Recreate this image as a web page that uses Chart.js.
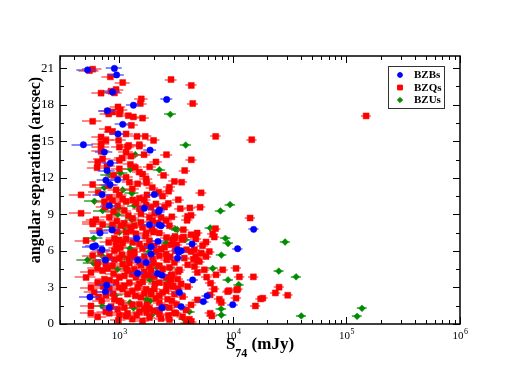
<!DOCTYPE html>
<html>
<head>
<meta charset="utf-8">
<title>angular separation vs S74</title>
<script src="https://cdn.jsdelivr.net/npm/chart.js@4/dist/chart.umd.min.js"></script>
<style>
  html, body { margin: 0; padding: 0; background: #fff; }
</style>
</head>
<body>
<canvas id="myChart" width="518" height="382"></canvas>

<script>
// [flux S74 (mJy), angular separation (arcsec)]
const BZB_POINTS = [
  [525,20.86],[904,20.98],[946,20.45],[870,19.05],[2610,18.43],[1330,17.96],[785,17.5],[1070,16.39],
  [973,15.6],[482,14.72],[738,14.11],[1865,14.27],[833,13.2],[778,12.6],[762,11.8],[966,11.84],
  [828,11.45],[704,10.63],[2030,10.63],[816,9.72],[1660,9.5],[2250,9.36],[2220,9.23],[1840,8.15],
  [2250,8.13],[862,7.72],[676,7.47],[2330,8.07],[15230,7.77],[4370,6.57],[11000,6.18],[3330,5.9],
  [582,6.34],[615,6.42],[704,6.1],[1420,7.03],[2190,6.78],[1900,6.34],[3260,6.1],[753,5.25],
  [1450,5.25],[1900,5.74],[1720,5.05],[1450,4.17],[2170,4.14],[2370,4.0],[773,3.19],[551,2.22],
  [753,2.66],[2370,1.34],[816,1.34],[9960,1.59],[5920,2.31],[5490,1.84],[4420,3.62],[3260,5.41],
  [3500,6.01],[3380,2.58],[3500,1.43]
];

const BZQ_POINTS = [
  [582,20.92],[545,20.8],[833,20.29],[1070,19.82],[2850,20.07],[4300,19.58],[935,19.25],[845,19.11],
  [690,18.95],[904,18.97],[1560,18.48],[1530,18.1],[4430,18.1],[973,17.82],[1020,17.57],[788,17.46],
  [870,17.4],[805,17.24],[1000,17.24],[1200,17.1],[1330,17.0],[1600,16.9],[582,16.64],[1275,16.31],
  [795,15.98],[870,15.79],[1145,15.6],[1430,15.4],[1690,15.4],[2000,15.07],[762,15.07],[985,15.07],
  [690,14.8],[690,15.35],[1500,14.72],[1210,14.66],[7050,15.4],[14650,15.13],[149000,17.08],[4300,13.48],
  [3760,12.6],[3540,11.64],[2760,11.23],
  [690,14.52],[690,14.17],[1000,14.52],[1145,14.11],[1180,14.55],[1500,14.6],[1270,13.78],[644,13.29],
  [712,13.56],[1000,13.43],[1055,13.62],[1380,12.85],[636,12.83],[778,12.96],[890,12.19],[1225,11.64],
  [1450,11.51],[1740,11.59],[582,11.45],[800,11.37],[935,11.01],[460,10.6],[816,10.4],[1000,10.6],
  [2220,10.82],[1500,10.32],[738,10.05],[1145,10.05],[1660,10.21],[966,9.72],[1720,9.77],[2100,9.86],
  [1105,9.31],[890,9.23],[460,9.09],[3440,9.47],[1840,8.76],[1310,8.67],[622,8.57],[712,8.18],
  [1105,8.26],[1550,8.34],[2170,8.29],[870,8.13],[667,7.66],[1145,7.52],[1400,7.39],[1940,7.8],[582,8.21],
  [1000,12.74],[1500,12.47],[1720,11.92],[1145,12.05],[3050,11.7],[1070,10.27],[1310,10.19],[870,10.13],
  [1900,9.58],[1500,9.45],[1550,9.04],[2330,8.76],[1960,8.48],[816,8.76],[1355,8.07],[1600,7.93],
  [582,8.4],[1035,8.07],[1270,7.66],[1720,7.47],[2250,7.47],[2760,8.07],[2580,8.48],[2720,10.9],
  [5250,10.77],[5140,9.58],[4280,8.92],[3950,8.51],[14170,8.7],[3660,7.74],[7020,7.83],[4840,7.47],
  [4280,7.33],[6640,7.39],[3050,7.03],[3570,7.03],[5800,6.73],[10660,4.56],[11400,3.87],[15140,3.87],
  [11000,2.86],[25500,3.02],[23650,2.55],[30400,2.36],[18330,2.12],[17550,2.06],[15780,1.48],[10660,2.12],
  [9200,2.74],[10800,2.8],[6310,0.88],[6520,0.66],[4180,9.53],[3990,8.84],[3090,7.19],[3660,7.14],
  [4720,6.98],[6850,7.14],
  [5400,6.42],[6200,5.95],[5800,5.54],[5060,5.13],[4580,4.72],[8130,4.45],[7100,4.04],[5870,3.85],
  [6350,3.35],[9000,2.66],[6850,2.86],[7600,2.03],[7900,1.76],[6300,2.39],[4870,1.98],[4280,1.57],
  [3860,1.15],[3150,0.88],[4140,0.39],[2950,3.07],[4000,3.07],[3610,2.25],[4700,5.54],[4280,5.95],
  [3730,5.41],[4000,4.86],[3380,4.45],[2900,4.04],[2850,3.62],[4870,4.23],[3570,6.92],[2850,6.5],
  [4580,6.1],[5250,5.82],[4840,5.21],[5600,4.45],
  [509,6.84],[805,6.7],[904,7.03],[1145,6.98],[1310,6.7],[1840,6.84],[2950,6.92],[1020,6.28],
  [1600,6.2],[2330,6.15],[582,5.6],[816,5.54],[904,5.27],[1355,5.52],[1660,5.54],[2250,5.6],
  [644,5.05],[1070,4.92],[1225,5.0],[2610,5.27],[3050,5.05],[1840,4.7],[788,4.56],[1355,4.5],
  [2760,4.64],[562,4.23],[890,4.14],[1105,3.95],[1660,3.95],[2850,4.0],[509,3.82],[738,3.68],
  [935,3.4],[1225,3.4],[2250,3.4],[3260,3.68],[562,2.99],[816,2.91],[1105,3.13],[1450,2.99],
  [1720,2.86],[2950,3.13],[657,2.22],[1180,2.45],[1660,2.53],[2250,2.31],[3050,2.45],[904,2.03],
  [845,1.43],[1500,1.62],[1105,1.34],[1840,1.26],[2760,1.34],[644,0.58],[1000,0.72],[1420,0.72],
  [1740,0.93],[2250,0.8],[2760,0.36],
  [935,6.57],[1070,6.65],[1500,6.57],[2030,6.42],[904,6.01],[1355,5.93],[2100,5.93],[2580,5.74],
  [1000,5.38],[1210,5.33],[1960,5.33],[870,4.78],[1550,4.83],[2250,4.78],[712,4.37],[1180,4.37],
  [1900,4.37],[2410,4.5],[1000,3.82],[1400,3.82],[2030,3.9],[2580,3.82],[644,3.4],[1600,3.46],
  [1070,2.86],[2030,2.86],[2580,2.72],[762,2.36],[1380,2.31],[1900,2.45],[2660,2.03],[1035,1.76],
  [2250,1.76],[562,1.48],[966,1.21],[1660,1.26],[2250,1.15],[1180,0.88],[816,0.88],[3050,0.93],
  [1145,0.66],[1840,0.52],[2330,0.44],
  [1650,13.9],[2100,13.3],[1850,12.9],[2450,12.2],[1250,13.1],[1600,12.3],[2600,13.9],[1950,11.2],
  [2400,10.5],[1300,11.1],[1750,10.6],[2700,9.9],[2050,9.1],[1200,8.9],[950,8.45],[1400,9.95],
  [2900,8.8],[3300,10.2],[2500,9.6],[750,9.6],[650,10.8],
  [950,6.2],[1250,5.8],[1750,6.4],[2500,6.3],[3100,6.0],[680,5.9],[1050,5.7],[1500,5.1],
  [2000,5.0],[2800,5.5],[760,4.9],[1150,4.6],[1650,4.3],[2300,4.1],[3300,4.3],[640,4.6],
  [1300,4.1],[1850,4.0],[820,3.6],[1500,3.3],[2050,3.3],[2600,3.2],[3500,3.3],[720,3.1],
  [1000,3.0],[1300,2.7],[1900,2.7],[2400,2.6],[3300,2.9],[600,2.6],[880,2.5],[1550,2.2],
  [2100,2.1],[2900,1.9],[1000,1.9],[1300,1.6],[1750,1.6],[2500,1.4],[3200,1.6],[700,1.9],
  [1500,1.0],[2000,1.1],[1300,0.4],[980,0.3],[1600,0.25],[2700,0.7],[3600,0.6],[4300,0.2],
  [3900,0.05],[760,1.0],[560,0.9],
  [1000,6.9],[1700,7.2],[2600,7.1],[2000,7.55],[1250,7.95],[950,7.6],[3200,6.5],[3900,6.1],[4500,5.3]
];

const BZU_POINTS = [
  [2810,17.2],[3840,14.69],[9440,9.8],[7760,9.28],[3240,7.74],[6310,7.88],[8590,7.03],[28800,6.73],
  [9060,6.61],[7910,5.66],[6640,4.56],[9060,3.62],[11250,3.24],[25360,4.34],[36000,3.87],[40000,0.66],
  [124000,0.63],[137000,1.29],[7870,1.24],[7910,0.74],[3730,0.39],[4140,1.01],[1380,13.9],[2250,12.66],
  [1250,12.69],[1020,12.38],[816,12.25],[738,11.2],[1070,11.01],[1290,10.73],[603,10.07],[1355,9.72],
  [985,9.5],[712,9.31],[966,8.98],[1290,8.57],[1105,7.93],[845,7.99],[3100,7.8],[1000,7.52],
  [595,7.03],[2580,6.65],[1240,6.2],[1840,5.95],[704,5.6],[1105,5.46],[525,5.27],[590,5.0],
  [2130,4.64],[966,4.5],[2800,4.59],[738,3.46],[1865,3.62],[2720,3.54],[920,2.36],[1740,2.03],
  [1865,1.89],[704,1.48],[1240,1.76],[1330,1.32],[1960,0.8],[3810,6.92]
];

const SERIES_NAMES = ['BZBs', 'BZQs', 'BZUs'];
const Y_TICKS = [0, 3, 6, 9, 12, 15, 18, 21];
const X_TICK_EXP = [3, 4, 5, 6];

// flux error used for the horizontal bars
const ERR_FRAC = 0.1;
const ERR_FLOOR = 55;

const toXY = arr => arr.map(p => ({x: p[0], y: p[1]}));

const errorBarPlugin = {
  id: 'errorBars',
  beforeDatasetDraw(chart, args) {
    const ds = chart.data.datasets[args.index];
    const xs = chart.scales.x, ys = chart.scales.y;
    const area = chart.chartArea;
    const ctx = chart.ctx;
    ctx.save();
    ctx.beginPath();
    ctx.rect(area.left, area.top, area.right - area.left, area.bottom - area.top);
    ctx.clip();
    ctx.strokeStyle = ds.errColor;
    ctx.lineWidth = 2;
    ds.data.forEach(p => {
      const e = p.x * ERR_FRAC + ERR_FLOOR;
      const py = Math.round(ys.getPixelForValue(p.y));
      ctx.beginPath();
      ctx.moveTo(xs.getPixelForValue(p.x - e), py);
      ctx.lineTo(xs.getPixelForValue(p.x + e), py);
      ctx.stroke();
    });
    ctx.restore();
  }
};

const framePlugin = {
  id: 'graceFrame',
  afterDraw(chart) {
    const ctx = chart.ctx;
    const a = chart.chartArea;
    const xs = chart.scales.x, ys = chart.scales.y;
    ctx.save();
    ctx.strokeStyle = '#000';
    ctx.fillStyle = '#000';

    // ticks (inward on all four sides)
    ctx.lineWidth = 1;
    const tickX = (v, len) => {
      const px = Math.round(xs.getPixelForValue(v)) + 0.5;
      ctx.beginPath();
      ctx.moveTo(px, a.bottom); ctx.lineTo(px, a.bottom - len);
      ctx.moveTo(px, a.top); ctx.lineTo(px, a.top + len);
      ctx.stroke();
    };
    const tickY = (v, len) => {
      const py = Math.round(ys.getPixelForValue(v)) + 0.5;
      ctx.beginPath();
      ctx.moveTo(a.left, py); ctx.lineTo(a.left + len, py);
      ctx.moveTo(a.right, py); ctx.lineTo(a.right - len, py);
      ctx.stroke();
    };
    for (let e = 2; e <= 5; e++) {
      for (let k = 2; k <= 9; k++) {
        const v = k * Math.pow(10, e);
        if (v >= xs.min && v <= xs.max) tickX(v, 4);
      }
    }
    X_TICK_EXP.forEach(e => tickX(Math.pow(10, e), 7));
    Y_TICKS.forEach(v => tickY(v, 7));
    Y_TICKS.forEach(v => { if (v + 1.5 < ys.max) tickY(v + 1.5, 4); });

    // frame
    ctx.lineWidth = 1.5;
    ctx.strokeRect(a.left, a.top, a.right - a.left, a.bottom - a.top);

    // y tick labels
    ctx.font = '13px "Liberation Serif", serif';
    ctx.textAlign = 'right';
    ctx.textBaseline = 'middle';
    Y_TICKS.forEach(v => ctx.fillText(String(v), a.left - 6, ys.getPixelForValue(v)));

    // x tick labels 10^n
    ctx.textBaseline = 'alphabetic';
    X_TICK_EXP.forEach(e => {
      const px = xs.getPixelForValue(Math.pow(10, e));
      ctx.font = '11px "Liberation Serif", serif';
      const w1 = ctx.measureText('10').width;
      ctx.font = '8px "Liberation Serif", serif';
      const w2 = ctx.measureText(String(e)).width;
      const x0 = px - (w1 + w2) / 2;
      ctx.textAlign = 'left';
      ctx.font = '11px "Liberation Serif", serif';
      ctx.fillText('10', x0, a.bottom + 15);
      ctx.font = '8px "Liberation Serif", serif';
      ctx.fillText(String(e), x0 + w1 + 0.5, a.bottom + 10);
    });

    // x title: S74 (mJy)
    ctx.font = 'bold 17px "Liberation Serif", serif';
    const sW = ctx.measureText('S').width;
    const restW = ctx.measureText(' (mJy)').width;
    ctx.font = 'bold 12px "Liberation Serif", serif';
    const subW = ctx.measureText('74').width;
    const tx = (a.left + a.right) / 2 - (sW + subW + restW) / 2;
    ctx.textAlign = 'left';
    ctx.font = 'bold 17px "Liberation Serif", serif';
    ctx.fillText('S', tx, a.bottom + 25);
    ctx.font = 'bold 12px "Liberation Serif", serif';
    ctx.fillText('74', tx + sW, a.bottom + 33);
    ctx.font = 'bold 17px "Liberation Serif", serif';
    ctx.fillText(' (mJy)', tx + sW + subW, a.bottom + 25);

    // y title
    ctx.save();
    ctx.translate(36, 170);
    ctx.rotate(-Math.PI / 2);
    ctx.textAlign = 'center';
    ctx.textBaseline = 'middle';
    ctx.font = 'bold 16px "Liberation Serif", serif';
    ctx.fillText('angular separation (arcsec)', 0, 0);
    ctx.restore();

    // legend box
    const lx = 388, ly = 66, lw = 56, lh = 42;
    ctx.fillStyle = '#fff';
    ctx.fillRect(lx, ly, lw, lh);
    ctx.lineWidth = 1;
    ctx.strokeStyle = '#333';
    ctx.strokeRect(lx + 0.5, ly + 0.5, lw, lh);
    chart.data.datasets.forEach((ds, i) => {
      const cy = ly + 9 + i * 12.5;
      ctx.fillStyle = ds.backgroundColor;
      ctx.strokeStyle = ds.borderColor;
      Chart.helpers.drawPoint(ctx, {
        pointStyle: ds.pointStyle, radius: ds.pointRadius - 0.8, borderWidth: 0.5
      }, lx + 12, cy);
      ctx.fillStyle = '#000';
      ctx.font = 'bold 11px "Liberation Serif", serif';
      ctx.textAlign = 'left';
      ctx.textBaseline = 'middle';
      ctx.fillText(SERIES_NAMES[i], lx + 26, cy + 0.5);
    });
    ctx.restore();
  }
};

const config = {
  type: 'scatter',
  data: {
    datasets: [
      {
        label: SERIES_NAMES[0],
        data: toXY(BZB_POINTS),
        pointStyle: 'circle',
        pointRadius: 3.2,
        backgroundColor: 'rgb(0,0,255)',
        borderColor: 'rgb(0,0,255)',
        borderWidth: 0.5,
        errColor: 'rgba(60,60,255,0.6)'
      },
      {
        label: SERIES_NAMES[1],
        data: toXY(BZQ_POINTS),
        pointStyle: 'rect',
        pointRadius: 4.2,
        backgroundColor: 'rgb(255,0,0)',
        borderColor: 'rgb(255,0,0)',
        borderWidth: 0.5,
        errColor: 'rgba(255,50,50,0.6)'
      },
      {
        label: SERIES_NAMES[2],
        data: toXY(BZU_POINTS),
        pointStyle: 'rectRot',
        pointRadius: 3.4,
        backgroundColor: 'rgb(0,140,0)',
        borderColor: 'rgb(0,140,0)',
        borderWidth: 0.5,
        errColor: 'rgba(0,140,0,0.6)'
      }
    ]
  },
  options: {
    responsive: false,
    animation: false,
    events: [],
    layout: { padding: { left: 60, right: 58, top: 56, bottom: 58 } },
    scales: {
      x: { type: 'logarithmic', min: 300, max: 1000000, display: false },
      y: { type: 'linear', min: 0, max: 22, display: false }
    },
    plugins: {
      legend: { display: false },
      tooltip: { enabled: false }
    }
  },
  plugins: [errorBarPlugin, framePlugin]
};

const myChart = new Chart(document.getElementById('myChart'), config);
</script>
</body>
</html>
